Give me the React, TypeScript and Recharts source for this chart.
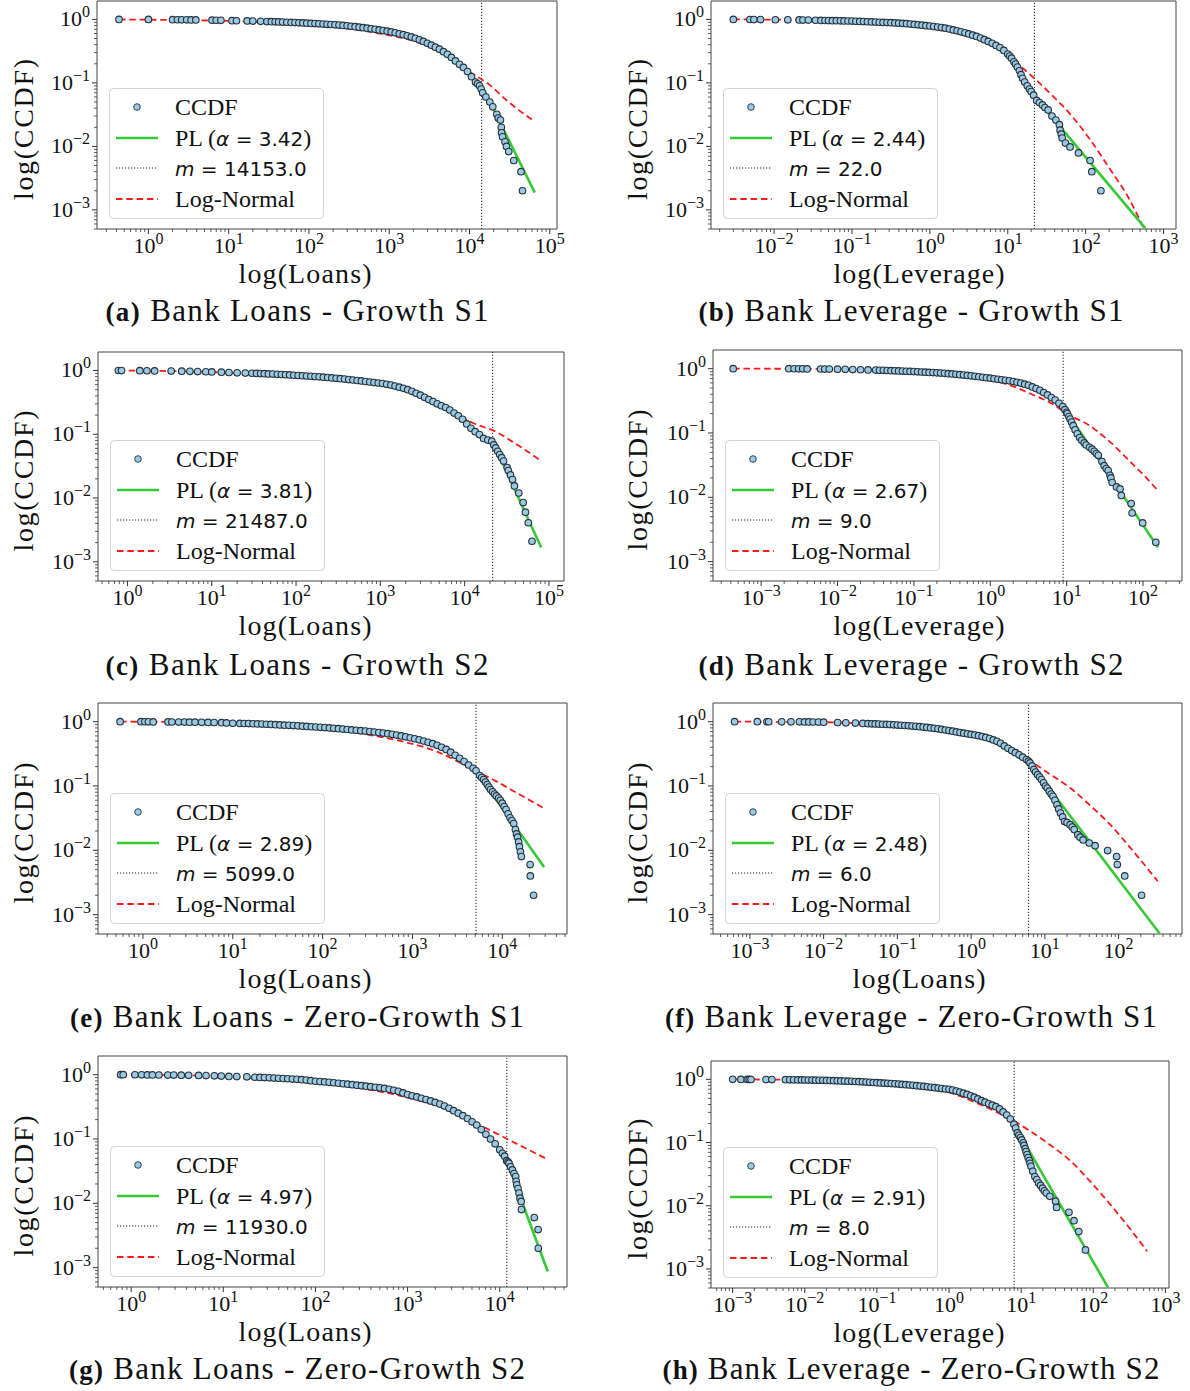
import React from 'react';
import { ComposedChart, XAxis, YAxis, Scatter, Line, ReferenceLine, ReferenceArea } from 'recharts';

type Pt = [number, number];

// ---------------- DATA ----------------
// (a) Bank Loans - Growth S1
const CCDF_A: Pt[] = [
  [0.43, 1.0], [1.0, 0.998], [2.0, 0.99], [2.3, 0.988], [2.6, 0.986], [3.0, 0.984], [3.4, 0.982], [3.9, 0.98],
  [6.2, 0.972], [7.0, 0.97], [8.0, 0.967], [11, 0.955], [12.5, 0.952], [17, 0.945], [20, 0.94], [25, 0.932],
  [30, 0.925], [34, 0.921], [38, 0.917], [42, 0.912], [47, 0.908], [53, 0.903], [60, 0.897], [67, 0.891], [75, 0.885],
  [84, 0.879], [94, 0.873], [106, 0.866], [119, 0.859], [133, 0.852], [150, 0.845], [168, 0.838], [188, 0.831],
  [211, 0.823], [237, 0.814], [266, 0.804], [299, 0.793], [335, 0.781], [376, 0.769], [422, 0.756], [473, 0.742],
  [531, 0.727], [596, 0.712], [668, 0.697], [750, 0.682], [841, 0.668], [944, 0.652], [1059, 0.635], [1188, 0.614],
  [1333, 0.595], [1496, 0.574], [1679, 0.552], [1884, 0.53], [2113, 0.505], [2371, 0.478], [2661, 0.45],
  [2985, 0.42], [3350, 0.393], [3758, 0.366], [4217, 0.34], [4732, 0.31], [5309, 0.282], [5957, 0.252],
  [6683, 0.222], [7499, 0.196], [8414, 0.175], [9441, 0.151], [10593, 0.125], [11885, 0.103], [12600, 0.097],
  [13335, 0.09], [14000, 0.08], [14600, 0.07], [16000, 0.06], [17900, 0.05], [19500, 0.042], [21900, 0.032],
  [22800, 0.028], [24300, 0.026], [24900, 0.02], [25100, 0.0164], [25800, 0.0142], [27700, 0.0118], [28900, 0.01],
  [30800, 0.0083], [35600, 0.006], [43800, 0.004], [45700, 0.002],
];
const PL_A: Pt[] = [[14153, 0.092], [65000, 0.00187]];
const LN_A: Pt[] = [
  [0.43, 0.998], [1, 0.99], [3, 0.975], [10, 0.945], [30, 0.9], [100, 0.822], [300, 0.72], [760, 0.6],
  [1980, 0.46], [5150, 0.275], [10000, 0.15], [17800, 0.093], [28600, 0.054], [60800, 0.026],
];
const M_A = 14153.0;
const ALPHA_A = 3.42;

// (b) Bank Leverage - Growth S1
const CCDF_B: Pt[] = [
  [0.003, 1.0], [0.0049, 0.997], [0.0055, 0.995], [0.0067, 0.993], [0.0104, 0.988], [0.015, 0.984], [0.021, 0.98],
  [0.0235, 0.978], [0.0275, 0.975], [0.034, 0.97], [0.04, 0.965], [0.045, 0.962], [0.05, 0.96], [0.056, 0.957],
  [0.063, 0.954], [0.071, 0.951], [0.079, 0.948], [0.089, 0.944], [0.1, 0.94], [0.112, 0.935], [0.126, 0.929],
  [0.141, 0.924], [0.158, 0.918], [0.178, 0.913], [0.2, 0.907], [0.224, 0.902], [0.251, 0.897], [0.282, 0.892],
  [0.316, 0.887], [0.355, 0.88], [0.398, 0.873], [0.447, 0.865], [0.501, 0.856], [0.562, 0.846], [0.631, 0.835],
  [0.708, 0.823], [0.794, 0.81], [0.891, 0.798], [1.0, 0.787], [1.12, 0.774], [1.26, 0.76], [1.41, 0.744],
  [1.58, 0.727], [1.78, 0.706], [2.0, 0.683], [2.24, 0.66], [2.51, 0.638], [2.82, 0.615], [3.16, 0.59],
  [3.55, 0.565], [3.98, 0.54], [4.47, 0.51], [5.01, 0.48], [5.62, 0.45], [6.31, 0.42], [7.08, 0.39], [7.94, 0.36],
  [8.91, 0.325], [10.0, 0.285], [10.6, 0.265], [11.2, 0.245], [12.0, 0.215], [12.6, 0.198], [13.3, 0.178],
  [14.1, 0.155], [14.8, 0.135], [15.5, 0.118], [16.5, 0.103], [17.8, 0.09], [19, 0.08], [20, 0.073], [21.5, 0.064],
  [23.5, 0.053], [25.5, 0.049], [27.9, 0.045], [30, 0.041], [33, 0.0375], [37, 0.03], [41.5, 0.026], [46, 0.022],
  [47, 0.018], [48.7, 0.0156], [50, 0.0135], [55, 0.0113], [63, 0.0098], [81, 0.0079], [114, 0.006], [120, 0.004],
  [157, 0.002],
];
const PL_B: Pt[] = [[22, 0.062], [585, 0.00051]];
const LN_B: Pt[] = [
  [0.003, 1.0], [0.042, 0.975], [0.1, 0.94], [0.23, 0.88], [1, 0.73], [3.9, 0.49], [7.6, 0.34], [10, 0.27],
  [13.4, 0.2], [21, 0.124], [37, 0.064], [65, 0.031], [114, 0.0128], [200, 0.0046], [350, 0.0016], [550, 0.00053],
];
const M_B = 22.0;
const ALPHA_B = 2.44;

// (c) Bank Loans - Growth S2
const CCDF_C: Pt[] = [
  [0.78, 1.0], [0.85, 0.998], [1.4, 0.994], [1.7, 0.99], [2.1, 0.986], [3.3, 0.98], [4.4, 0.975], [5.5, 0.97],
  [6.8, 0.963], [8.5, 0.955], [10, 0.948], [13, 0.94], [16, 0.93], [20, 0.92], [25, 0.91], [30, 0.905], [34, 0.9],
  [38, 0.895], [42, 0.89], [47, 0.884], [53, 0.878], [60, 0.871], [67, 0.865], [75, 0.858], [84, 0.851], [94, 0.843],
  [106, 0.835], [119, 0.827], [133, 0.82], [150, 0.812], [168, 0.804], [188, 0.795], [211, 0.786], [237, 0.776],
  [266, 0.766], [299, 0.755], [335, 0.744], [376, 0.733], [422, 0.721], [473, 0.709], [531, 0.697], [596, 0.685],
  [668, 0.672], [750, 0.66], [841, 0.647], [944, 0.637], [1059, 0.625], [1188, 0.608], [1333, 0.59], [1496, 0.57],
  [1679, 0.548], [1884, 0.525], [2113, 0.5], [2371, 0.472], [2661, 0.44], [2985, 0.41], [3350, 0.38], [3758, 0.35],
  [4217, 0.325], [4732, 0.3], [5309, 0.28], [5957, 0.262], [6683, 0.24], [7499, 0.215], [8414, 0.195],
  [9441, 0.172], [10593, 0.145], [11885, 0.124], [13335, 0.11], [14962, 0.099], [16788, 0.086], [18836, 0.081],
  [21000, 0.078], [22200, 0.068], [23400, 0.061], [24700, 0.054], [26100, 0.048], [27500, 0.043], [29000, 0.038],
  [32000, 0.03], [33000, 0.027], [35000, 0.023], [37000, 0.0195], [39000, 0.0155], [43900, 0.012], [49500, 0.0085],
  [52700, 0.006], [57000, 0.0041], [63000, 0.0021],
];
const PL_C: Pt[] = [[21487, 0.078], [81000, 0.00168]];
const LN_C: Pt[] = [
  [0.78, 1.0], [3, 0.98], [10, 0.945], [30, 0.89], [100, 0.808], [300, 0.71], [1000, 0.6], [2950, 0.42],
  [4900, 0.31], [8300, 0.2], [12600, 0.15], [23400, 0.11], [39000, 0.073], [77000, 0.04],
];
const M_C = 21487.0;
const ALPHA_C = 3.81;

// (d) Bank Leverage - Growth S2
const CCDF_D: Pt[] = [
  [0.00043, 1.0], [0.0023, 0.998], [0.0027, 0.996], [0.0031, 0.994], [0.0035, 0.993], [0.004, 0.992], [0.006, 0.988],
  [0.0068, 0.986], [0.0078, 0.984], [0.01, 0.98], [0.0126, 0.975], [0.0158, 0.969], [0.02, 0.962], [0.0251, 0.955],
  [0.0316, 0.949], [0.0355, 0.945], [0.0398, 0.941], [0.0447, 0.936], [0.0501, 0.931], [0.0562, 0.926],
  [0.0631, 0.921], [0.0708, 0.916], [0.0794, 0.911], [0.0891, 0.906], [0.1, 0.9], [0.112, 0.894], [0.126, 0.888],
  [0.141, 0.882], [0.158, 0.875], [0.178, 0.868], [0.2, 0.861], [0.224, 0.853], [0.251, 0.845], [0.282, 0.836],
  [0.316, 0.827], [0.355, 0.817], [0.398, 0.807], [0.447, 0.796], [0.501, 0.785], [0.562, 0.773], [0.631, 0.761],
  [0.708, 0.748], [0.794, 0.735], [0.891, 0.722], [1.0, 0.71], [1.12, 0.697], [1.26, 0.685], [1.41, 0.672],
  [1.58, 0.66], [1.78, 0.646], [2.0, 0.632], [2.24, 0.615], [2.51, 0.596], [2.82, 0.574], [3.16, 0.55],
  [3.55, 0.52], [3.98, 0.49], [4.47, 0.46], [5.01, 0.425], [5.62, 0.39], [6.31, 0.355], [7.08, 0.325],
  [7.94, 0.29], [8.91, 0.258], [9.5, 0.23], [10, 0.21], [10.2, 0.2], [10.7, 0.18], [11.1, 0.165], [11.6, 0.148],
  [12.2, 0.13], [12.9, 0.112], [13.8, 0.097], [14.8, 0.085], [15.8, 0.077], [17, 0.07], [18, 0.065], [20, 0.06],
  [21.5, 0.056], [23, 0.052], [24.5, 0.048], [26, 0.045], [29, 0.036], [31, 0.031], [33, 0.028], [35, 0.026],
  [37, 0.022], [38, 0.02], [39.5, 0.017], [45, 0.0145], [50, 0.0135], [52, 0.0107], [70, 0.008], [72, 0.0057],
  [99, 0.004], [147, 0.002],
];
const PL_D: Pt[] = [[9, 0.255], [157, 0.00167]];
const LN_D: Pt[] = [
  [0.00043, 1.0], [0.01, 0.985], [0.1, 0.9], [0.3, 0.815], [1, 0.665], [2, 0.53], [3.5, 0.4], [6.3, 0.29],
  [10, 0.2], [20, 0.13], [35, 0.077], [62, 0.04], [99, 0.023], [150, 0.0135],
];
const M_D = 9.0;
const ALPHA_D = 2.67;

// (e) Bank Loans - Zero-Growth S1
const CCDF_E: Pt[] = [
  [0.557, 1.0], [0.95, 0.998], [1.05, 0.996], [1.15, 0.994], [1.3, 0.992], [1.9, 0.99], [2.1, 0.988], [2.5, 0.986],
  [2.9, 0.984], [3.3, 0.982], [3.8, 0.98], [4.5, 0.977], [5.3, 0.974], [6.2, 0.97], [7.5, 0.965], [8.5, 0.955],
  [10, 0.945], [12, 0.94], [13.4, 0.936], [15, 0.932], [16.8, 0.928], [18.8, 0.923], [21.1, 0.917], [23.7, 0.911],
  [26.6, 0.905], [29.9, 0.897], [33.5, 0.89], [37.6, 0.883], [42.2, 0.876], [47.3, 0.868], [53, 0.86], [59.6, 0.852],
  [66.8, 0.843], [75, 0.834], [84, 0.826], [94.4, 0.817], [106, 0.808], [119, 0.798], [133, 0.788], [150, 0.777],
  [168, 0.766], [188, 0.755], [211, 0.745], [237, 0.735], [266, 0.725], [299, 0.713], [335, 0.702], [376, 0.69],
  [422, 0.677], [473, 0.664], [531, 0.651], [596, 0.635], [668, 0.618], [750, 0.6], [841, 0.582], [944, 0.562],
  [1059, 0.542], [1188, 0.522], [1333, 0.5], [1496, 0.477], [1679, 0.455], [1884, 0.428], [2113, 0.4],
  [2371, 0.37], [2661, 0.335], [2985, 0.3], [3350, 0.27], [3758, 0.24], [4217, 0.212], [4732, 0.188], [5100, 0.172],
  [5600, 0.145], [5900, 0.135], [6200, 0.126], [6500, 0.115], [6800, 0.105], [7100, 0.096], [7400, 0.088],
  [7800, 0.081], [8200, 0.075], [8600, 0.07], [9100, 0.065], [9500, 0.06], [10000, 0.054], [10500, 0.048],
  [11000, 0.043], [11600, 0.037], [12200, 0.032], [12800, 0.029], [13400, 0.026], [14000, 0.021], [14400, 0.018],
  [14800, 0.016], [15200, 0.0135], [15500, 0.0114], [15900, 0.0095], [16300, 0.008], [20400, 0.006],
  [20500, 0.004], [22300, 0.002],
];
const PL_E: Pt[] = [[5099, 0.17], [29200, 0.0055]];
const LN_E: Pt[] = [
  [0.557, 1.0], [2, 0.99], [10, 0.962], [30, 0.885], [100, 0.78], [440, 0.58], [1000, 0.45], [1900, 0.34],
  [3100, 0.245], [5100, 0.17], [8600, 0.118], [13400, 0.083], [29200, 0.045],
];
const M_E = 5099.0;
const ALPHA_E = 2.89;

// (f) Bank Leverage - Zero-Growth S1
const CCDF_F: Pt[] = [
  [0.00062, 1.0], [0.00126, 0.998], [0.0017, 0.997], [0.0018, 0.996], [0.0027, 0.995], [0.0036, 0.994],
  [0.0047, 0.993], [0.0055, 0.992], [0.0063, 0.99], [0.0072, 0.988], [0.0085, 0.985], [0.01, 0.98], [0.0155, 0.97],
  [0.02, 0.96], [0.027, 0.95], [0.034, 0.94], [0.04, 0.93], [0.045, 0.926], [0.05, 0.922], [0.056, 0.917],
  [0.063, 0.912], [0.071, 0.906], [0.079, 0.9], [0.089, 0.893], [0.1, 0.886], [0.112, 0.879], [0.126, 0.871],
  [0.141, 0.863], [0.158, 0.855], [0.178, 0.846], [0.2, 0.836], [0.224, 0.825], [0.251, 0.813], [0.282, 0.8],
  [0.316, 0.787], [0.355, 0.773], [0.398, 0.758], [0.447, 0.742], [0.501, 0.726], [0.562, 0.71], [0.631, 0.693],
  [0.708, 0.677], [0.794, 0.661], [0.891, 0.647], [1.0, 0.634], [1.12, 0.62], [1.26, 0.605], [1.41, 0.588],
  [1.58, 0.568], [1.78, 0.546], [2.0, 0.52], [2.24, 0.495], [2.51, 0.46], [2.82, 0.42], [3.16, 0.385],
  [3.55, 0.355], [3.98, 0.33], [4.47, 0.305], [5.01, 0.28], [5.62, 0.258], [6.0, 0.243], [6.3, 0.228],
  [6.7, 0.205], [7.1, 0.18], [7.5, 0.165], [8, 0.15], [8.5, 0.138], [9, 0.126], [9.6, 0.112], [10.2, 0.1],
  [10.8, 0.093], [11.5, 0.083], [12.2, 0.075], [12.9, 0.069], [13.7, 0.06], [14.6, 0.051], [15.4, 0.044],
  [16.3, 0.038], [17.4, 0.033], [18.5, 0.028], [20, 0.027], [22, 0.025], [23.5, 0.023], [25, 0.021], [28, 0.0175],
  [30, 0.016], [33, 0.0145], [40, 0.013], [48, 0.0118], [71, 0.0099], [94, 0.008], [96, 0.006], [121, 0.004],
  [205, 0.002],
];
const PL_F: Pt[] = [[6, 0.243], [360, 0.00051]];
const LN_F: Pt[] = [
  [0.00062, 1.0], [0.01, 0.98], [0.1, 0.86], [0.4, 0.73], [1, 0.6], [3.9, 0.37], [6, 0.258], [10.2, 0.17],
  [23.5, 0.088], [42.6, 0.048], [77, 0.025], [140, 0.0114], [340, 0.0033],
];
const M_F = 6.0;
const ALPHA_F = 2.48;

// (g) Bank Loans - Zero-Growth S2
const CCDF_G: Pt[] = [
  [0.77, 1.0], [0.82, 0.998], [1.1, 0.996], [1.3, 0.994], [1.5, 0.992], [1.7, 0.99], [2.0, 0.988], [2.5, 0.986],
  [2.9, 0.984], [3.5, 0.98], [4.2, 0.977], [5.4, 0.972], [6.5, 0.967], [8, 0.96], [9.5, 0.95], [11.5, 0.94],
  [14, 0.935], [18, 0.925], [22, 0.912], [25, 0.905], [28, 0.9], [31.6, 0.893], [35.5, 0.886], [39.8, 0.879],
  [44.7, 0.871], [50.1, 0.863], [56.2, 0.855], [63, 0.846], [70.8, 0.837], [79.4, 0.823], [89.1, 0.805],
  [100, 0.79], [112, 0.78], [126, 0.77], [141, 0.76], [158, 0.748], [178, 0.735], [200, 0.722], [224, 0.71],
  [251, 0.698], [282, 0.686], [316, 0.674], [355, 0.662], [398, 0.65], [447, 0.637], [501, 0.624], [562, 0.61],
  [631, 0.592], [708, 0.572], [794, 0.55], [891, 0.52], [1000, 0.49], [1122, 0.47], [1259, 0.45], [1413, 0.43],
  [1585, 0.41], [1778, 0.39], [1995, 0.37], [2239, 0.35], [2512, 0.325], [2818, 0.3], [3162, 0.275], [3548, 0.252],
  [3981, 0.23], [4467, 0.208], [5012, 0.185], [5623, 0.165], [6310, 0.14], [7079, 0.118], [7943, 0.1],
  [8913, 0.084], [10000, 0.068], [10700, 0.06], [11300, 0.054], [11900, 0.046], [12300, 0.044], [12600, 0.042],
  [13100, 0.037], [13700, 0.033], [14300, 0.029], [14900, 0.026], [15100, 0.022], [15300, 0.0194], [15800, 0.017],
  [16200, 0.0144], [16600, 0.012], [17100, 0.0107], [17200, 0.008], [23700, 0.006], [26100, 0.0039],
  [26200, 0.002],
];
const PL_G: Pt[] = [[11930, 0.046], [33200, 0.00087]];
const LN_G: Pt[] = [
  [0.77, 1.0], [3, 0.985], [10, 0.94], [30, 0.86], [100, 0.76], [300, 0.62], [1000, 0.44], [3650, 0.24],
  [6500, 0.157], [12600, 0.097], [33200, 0.048],
];
const M_G = 11930.0;
const ALPHA_G = 4.97;

// (h) Bank Leverage - Zero-Growth S2
const CCDF_H: Pt[] = [
  [0.001, 1.0], [0.0013, 0.998], [0.0016, 0.996], [0.0017, 0.995], [0.0018, 0.994], [0.0029, 0.992], [0.0035, 0.99],
  [0.0054, 0.986], [0.0062, 0.984], [0.007, 0.982], [0.008, 0.98], [0.009, 0.978], [0.01, 0.976], [0.0112, 0.974],
  [0.0126, 0.972], [0.0141, 0.969], [0.0158, 0.966], [0.0178, 0.963], [0.02, 0.96], [0.0224, 0.956],
  [0.0251, 0.952], [0.0282, 0.948], [0.0316, 0.944], [0.0355, 0.939], [0.0398, 0.934], [0.0447, 0.929],
  [0.0501, 0.924], [0.0562, 0.918], [0.0631, 0.912], [0.0708, 0.905], [0.0794, 0.898], [0.0891, 0.891],
  [0.1, 0.885], [0.112, 0.878], [0.126, 0.871], [0.141, 0.864], [0.158, 0.857], [0.178, 0.849], [0.2, 0.841],
  [0.224, 0.832], [0.251, 0.823], [0.282, 0.813], [0.316, 0.803], [0.355, 0.793], [0.398, 0.783], [0.447, 0.772],
  [0.501, 0.761], [0.562, 0.75], [0.631, 0.738], [0.708, 0.726], [0.794, 0.714], [0.891, 0.703], [1.0, 0.694],
  [1.12, 0.675], [1.26, 0.652], [1.41, 0.628], [1.58, 0.604], [1.78, 0.578], [2.0, 0.55], [2.24, 0.522],
  [2.51, 0.49], [2.82, 0.46], [3.16, 0.435], [3.55, 0.41], [3.98, 0.39], [4.47, 0.37], [5.01, 0.34], [5.62, 0.305],
  [6.31, 0.272], [7.08, 0.235], [7.94, 0.195], [8.4, 0.17], [8.9, 0.142], [9.3, 0.13], [9.8, 0.12], [10.2, 0.11],
  [10.7, 0.099], [11.0, 0.09], [11.4, 0.08], [11.7, 0.072], [12.1, 0.0646], [12.5, 0.058], [13, 0.052],
  [13.3, 0.047], [13.7, 0.042], [14.5, 0.035], [15.5, 0.029], [16.5, 0.026], [17.5, 0.0229], [18.6, 0.021],
  [19.8, 0.019], [21, 0.0172], [22.3, 0.0159], [25, 0.0141], [30, 0.0118], [31, 0.0094], [46, 0.0079],
  [54, 0.0058], [63, 0.0039], [78, 0.002],
];
const PL_H: Pt[] = [[8, 0.19], [160, 0.00051]];
const LN_H: Pt[] = [
  [0.001, 1.0], [0.01, 0.975], [0.1, 0.88], [0.3, 0.78], [1, 0.62], [2.34, 0.43], [4.3, 0.314], [8, 0.218],
  [14.6, 0.142], [26.7, 0.0874], [49, 0.0505], [90, 0.0245], [166, 0.011], [305, 0.0047], [560, 0.0019],
];
const M_H = 8.0;
const ALPHA_H = 2.91;

// axis domains
const Y_DOMAIN: [number, number] = [0.0005, 1.95];
const X_DOMAIN_A: [number, number] = [0.229, 123000];
const X_DOMAIN_B: [number, number] = [0.00155, 1445];
const X_DOMAIN_C: [number, number] = [0.447, 151000];
const X_DOMAIN_D: [number, number] = [0.000234, 324];
const X_DOMAIN_E: [number, number] = [0.316, 52500];
const X_DOMAIN_F: [number, number] = [0.000316, 724];
const X_DOMAIN_G: [number, number] = [0.437, 53700];
const X_DOMAIN_H: [number, number] = [0.000501, 1122];

const X_LABEL_LOANS = 'log(Loans)';
const X_LABEL_LEVERAGE = 'log(Leverage)';
const Y_LABEL = 'log(CCDF)';

const CAPTION_A = 'Bank Loans - Growth S1';
const CAPTION_B = 'Bank Leverage - Growth S1';
const CAPTION_C = 'Bank Loans - Growth S2';
const CAPTION_D = 'Bank Leverage - Growth S2';
const CAPTION_E = 'Bank Loans - Zero-Growth S1';
const CAPTION_F = 'Bank Leverage - Zero-Growth S1';
const CAPTION_G = 'Bank Loans - Zero-Growth S2';
const CAPTION_H = 'Bank Leverage - Zero-Growth S2';

const SERIES = [
  { tag: 'a', ccdf: CCDF_A, pl: PL_A, ln: LN_A, m: M_A, alpha: ALPHA_A, xDomain: X_DOMAIN_A, xLabel: X_LABEL_LOANS, caption: CAPTION_A },
  { tag: 'b', ccdf: CCDF_B, pl: PL_B, ln: LN_B, m: M_B, alpha: ALPHA_B, xDomain: X_DOMAIN_B, xLabel: X_LABEL_LEVERAGE, caption: CAPTION_B },
  { tag: 'c', ccdf: CCDF_C, pl: PL_C, ln: LN_C, m: M_C, alpha: ALPHA_C, xDomain: X_DOMAIN_C, xLabel: X_LABEL_LOANS, caption: CAPTION_C },
  { tag: 'd', ccdf: CCDF_D, pl: PL_D, ln: LN_D, m: M_D, alpha: ALPHA_D, xDomain: X_DOMAIN_D, xLabel: X_LABEL_LEVERAGE, caption: CAPTION_D },
  { tag: 'e', ccdf: CCDF_E, pl: PL_E, ln: LN_E, m: M_E, alpha: ALPHA_E, xDomain: X_DOMAIN_E, xLabel: X_LABEL_LOANS, caption: CAPTION_E },
  { tag: 'f', ccdf: CCDF_F, pl: PL_F, ln: LN_F, m: M_F, alpha: ALPHA_F, xDomain: X_DOMAIN_F, xLabel: X_LABEL_LOANS, caption: CAPTION_F },
  { tag: 'g', ccdf: CCDF_G, pl: PL_G, ln: LN_G, m: M_G, alpha: ALPHA_G, xDomain: X_DOMAIN_G, xLabel: X_LABEL_LOANS, caption: CAPTION_G },
  { tag: 'h', ccdf: CCDF_H, pl: PL_H, ln: LN_H, m: M_H, alpha: ALPHA_H, xDomain: X_DOMAIN_H, xLabel: X_LABEL_LEVERAGE, caption: CAPTION_H },
];

// ---------------- LAYOUT (page pixels) ----------------
const LAYOUT = [
  { col: 0, l: 97, r: 557, t: 1, b: 229, capY: 321, capW: 383 },
  { col: 595, l: 711, r: 1176, t: 1, b: 229, capY: 321, capW: 425 },
  { col: 0, l: 98, r: 564, t: 352, b: 581, capY: 675, capW: 383 },
  { col: 595, l: 713, r: 1182, t: 350, b: 581, capY: 675, capW: 425 },
  { col: 0, l: 98, r: 567, t: 703, b: 934, capY: 1027, capW: 454 },
  { col: 595, l: 713, r: 1182, t: 703, b: 934, capY: 1027, capW: 492 },
  { col: 0, l: 98, r: 567, t: 1056, b: 1287, capY: 1379, capW: 456 },
  { col: 595, l: 711, r: 1169, t: 1061, b: 1288, capY: 1379, capW: 497 },
];

const SERIF = '"Liberation Serif", "Times New Roman", serif';
const SANS = '"DejaVu Sans", sans-serif';
const GREEN = '#36c936';
const RED = '#ff1a1a';
const DOT_FILL = '#9ccae4';
const DOT_EDGE = '#26323b';

const toXY = (arr: Pt[]) => arr.map(([x, y]) => ({ x, y }));

const logTicks = (dom: [number, number]) => {
  const out: number[] = [];
  const d0 = Math.floor(Math.log10(dom[0]));
  const d1 = Math.ceil(Math.log10(dom[1]));
  for (let d = d0; d <= d1; d++) {
    for (let k = 1; k <= 9; k++) {
      const v = k * Math.pow(10, d);
      if (v >= dom[0] && v <= dom[1]) out.push(v);
    }
  }
  return out;
};
const isMajor = (v: number) => {
  const l = Math.log10(v);
  return Math.abs(l - Math.round(l)) < 1e-6;
};
const supText = (v: number) => {
  const e = Math.round(Math.log10(v));
  return e < 0 ? '\u2212' + Math.abs(e) : String(e);
};

function XTick(props: any) {
  const { x, y, payload } = props;
  const v = payload?.value;
  if (v == null) return null;
  const major = isMajor(v);
  return (
    <g>
      <line x1={x} x2={x} y1={y} y2={y + (major ? 5 : 3)} stroke="#333" strokeWidth={major ? 1 : 0.8} />
      {major && (
        <text x={x} y={y + 24} textAnchor="middle" fontFamily={SERIF} fontSize={22} fill="#111">
          10<tspan dy={-9} fontSize={16}>{supText(v)}</tspan>
        </text>
      )}
    </g>
  );
}

function YTick(props: any) {
  const { x, y, payload } = props;
  const v = payload?.value;
  if (v == null) return null;
  const major = isMajor(v);
  return (
    <g>
      <line x1={x} x2={x - (major ? 5 : 3)} y1={y} y2={y} stroke="#333" strokeWidth={major ? 1 : 0.8} />
      {major && (
        <text x={x - 7} y={y + 7} textAnchor="end" fontFamily={SERIF} fontSize={22} fill="#111">
          10<tspan dy={-9} fontSize={16}>{supText(v)}</tspan>
        </text>
      )}
    </g>
  );
}

const Dot = (p: any) => {
  if (p.cx == null || p.cy == null) return <g />;
  return <circle cx={p.cx} cy={p.cy} r={3.3} fill={DOT_FILL} stroke={DOT_EDGE} strokeWidth={1.1} />;
};

function Panel({ s, L }: { s: any; L: any }) {
  const mt = Math.min(10, L.t);
  const mb = 40;
  const H = L.b - L.t + mt + mb;
  const xTicks = logTicks(s.xDomain);
  const yTicks = logTicks(Y_DOMAIN);
  return (
    <div style={{ position: 'absolute', left: L.col, top: L.t - mt, width: 595, height: H }}>
      <ComposedChart width={595} height={H} margin={{ top: mt, right: L.col + 595 - L.r, bottom: 0, left: 0 }}>
        <XAxis
          dataKey="x" type="number" scale="log" domain={s.xDomain} allowDataOverflow ticks={xTicks}
          interval={0} tick={XTick} tickSize={0} tickMargin={0} tickLine={false} axisLine={false} height={mb}
        />
        <YAxis
          dataKey="y" type="number" scale="log" domain={Y_DOMAIN} allowDataOverflow ticks={yTicks}
          interval={0} tick={YTick} tickSize={0} tickMargin={0} tickLine={false} axisLine={false} width={L.l - L.col}
        />
        <ReferenceArea
          x1={s.xDomain[0]} x2={s.xDomain[1]} y1={Y_DOMAIN[0]} y2={Y_DOMAIN[1]}
          fill="none" fillOpacity={0} stroke="#444" strokeWidth={1} ifOverflow="visible"
        />
        <ReferenceLine x={s.m} stroke="#333" strokeWidth={1.1} strokeDasharray="1.2 1.8" />
        <Scatter data={toXY(s.ccdf)} isAnimationActive={false} shape={Dot} />
        <Line
          data={toXY(s.ln)} dataKey="y" type="monotone" stroke={RED} strokeWidth={1.8}
          strokeDasharray="6.5 3.8" dot={false} activeDot={false} isAnimationActive={false}
        />
        <Line
          data={toXY(s.pl)} dataKey="y" type="linear" stroke={GREEN} strokeWidth={2.6}
          dot={false} activeDot={false} isAnimationActive={false}
        />
      </ComposedChart>
    </div>
  );
}

function LegendBox({ x, y, alpha, m }: { x: number; y: number; alpha: number; m: number }) {
  return (
    <g transform={`translate(${x},${y})`}>
      <rect x={0.5} y={0.5} width={214} height={130} rx={4} fill="#fff" fillOpacity={0.85} stroke="#d4d4d4" strokeWidth={1} />
      <circle cx={28} cy={19} r={3.3} fill={DOT_FILL} stroke={DOT_EDGE} strokeWidth={0.9} />
      <text x={66} y={27} fontFamily={SERIF} fontSize={24} fill="#111">CCDF</text>
      <line x1={7} x2={49} y1={50} y2={50} stroke={GREEN} strokeWidth={2.6} />
      <text x={66} y={58} fontFamily={SERIF} fontSize={24} fill="#111">
        PL (<tspan fontFamily={SANS} fontSize={20} fontStyle="italic">α</tspan>
        <tspan fontFamily={SANS} fontSize={20}>{` = ${alpha.toFixed(2)}`}</tspan>)
      </text>
      <line x1={7} x2={49} y1={80} y2={80} stroke="#222" strokeWidth={1} strokeDasharray="1.2 1.8" />
      <text x={66} y={88} fontFamily={SANS} fontSize={20} fill="#111">
        <tspan fontStyle="italic">m</tspan>
        <tspan>{` = ${m.toFixed(1)}`}</tspan>
      </text>
      <line x1={7} x2={49} y1={111} y2={111} stroke={RED} strokeWidth={1.8} strokeDasharray="6.5 3.8" />
      <text x={66} y={119} fontFamily={SERIF} fontSize={24} fill="#111">Log-Normal</text>
    </g>
  );
}

export default function App() {
  return (
    <div style={{ position: 'absolute', left: 0, top: 0, width: 1190, height: 1391, background: '#fff' }}>
      {SERIES.map((s, i) => (
        <Panel key={s.tag} s={s} L={LAYOUT[i]} />
      ))}
      <svg width={1190} height={1391} style={{ position: 'absolute', left: 0, top: 0, pointerEvents: 'none' }}>
        {SERIES.map((s, i) => {
          const L = LAYOUT[i];
          const left = L.col === 0;
          const xlw = s.xLabel === X_LABEL_LOANS ? 133 : 171;
          const yc = (L.t + L.b) / 2 + 14.5;
          const ylx = L.col + (left ? 33 : 52);
          return (
            <g key={s.tag}>
              <LegendBox x={L.l + 12} y={L.b - 141} alpha={s.alpha} m={s.m} />
              <text
                x={L.col + (left ? 305 : 324)} y={L.b + 54} textAnchor="middle" fontFamily={SERIF}
                fontSize={28} fill="#111" textLength={xlw} lengthAdjust="spacing"
              >
                {s.xLabel}
              </text>
              <text
                transform={`translate(${ylx},${yc}) rotate(-90)`} x={0} y={0} textAnchor="middle"
                fontFamily={SERIF} fontSize={28} fill="#111" textLength={141} lengthAdjust="spacing"
              >
                {Y_LABEL}
              </text>
              <text
                x={L.col + (left ? 297 : 316)} y={L.capY} textAnchor="middle" fontFamily={SERIF}
                fontSize={31} fill="#111" textLength={L.capW} lengthAdjust="spacing"
              >
                <tspan fontWeight="bold" fontSize={27}>({s.tag})</tspan>
                <tspan>{` ${s.caption}`}</tspan>
              </text>
            </g>
          );
        })}
      </svg>
    </div>
  );
}
